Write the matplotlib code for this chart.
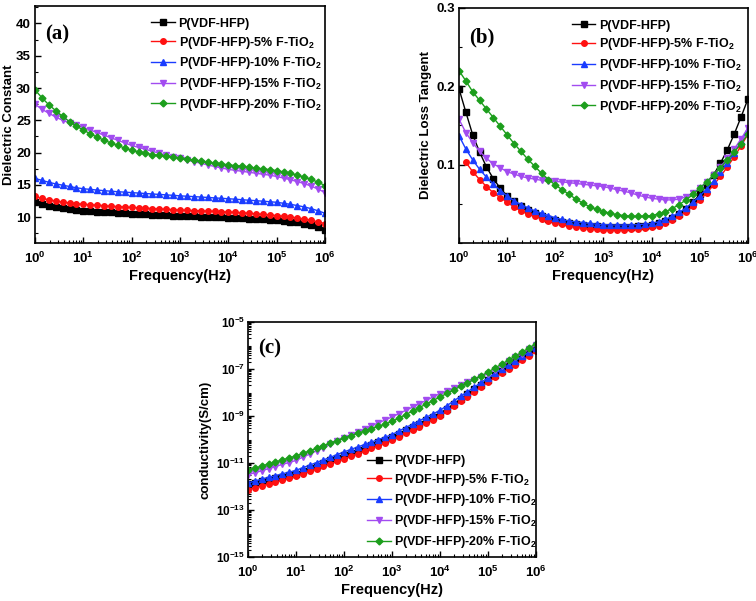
import numpy as np
import matplotlib
matplotlib.use("Agg")
import matplotlib.pyplot as plt
from matplotlib.ticker import FixedLocator, LogLocator, NullFormatter, FuncFormatter, MultipleLocator

plt.rcParams['font.family'] = ['Liberation Sans', 'DejaVu Sans']
plt.rcParams['font.weight'] = 'bold'
plt.rcParams['mathtext.fontset'] = 'custom'
plt.rcParams['mathtext.rm'] = 'Liberation Sans:bold'
plt.rcParams['mathtext.bf'] = 'Liberation Sans:bold'
plt.rcParams['mathtext.default'] = 'bf'

# frequency sweep, 7 points per decade from 1 Hz to 1 MHz
freq = 10 ** (np.arange(43) / 7)

labels = ['P(VDF-HFP)', 'P(VDF-HFP)-5% F-TiO$_2$', 'P(VDF-HFP)-10% F-TiO$_2$',
          'P(VDF-HFP)-15% F-TiO$_2$', 'P(VDF-HFP)-20% F-TiO$_2$']
colors = ['black', '#ff1010', '#1a3cff', '#a24cf0', '#1c9e1c']
markers = ['s', 'o', '^', 'v', 'D']

# (a) dielectric constant
eps_0 = [12.3, 12.0, 11.8, 11.6, 11.45, 11.3, 11.15, 11.0,
         10.93, 10.87, 10.8, 10.75, 10.7, 10.63, 10.55,
         10.5, 10.45, 10.4, 10.35, 10.3, 10.25, 10.2,
         10.16, 10.12, 10.08, 10.04, 10.0, 9.95, 9.9,
         9.85, 9.8, 9.75, 9.7, 9.65, 9.58, 9.5,
         9.42, 9.32, 9.18, 9.0, 8.75, 8.4, 8.0]
eps_5 = [13.2, 12.9, 12.7, 12.5, 12.35, 12.2, 12.1, 12.0,
         11.92, 11.85, 11.78, 11.7, 11.64, 11.57, 11.5,
         11.45, 11.4, 11.34, 11.28, 11.22, 11.16, 11.1,
         11.06, 11.02, 10.98, 10.94, 10.9, 10.85, 10.8,
         10.74, 10.68, 10.6, 10.52, 10.44, 10.35, 10.25,
         10.15, 10.02, 9.88, 9.7, 9.5, 9.27, 9.0]
eps_10 = [16.0, 15.7, 15.4, 15.15, 14.95, 14.75, 14.55, 14.4,
          14.3, 14.2, 14.1, 14.02, 13.94, 13.87, 13.8,
          13.73, 13.66, 13.59, 13.52, 13.45, 13.38, 13.3,
          13.24, 13.18, 13.12, 13.05, 12.98, 12.92, 12.85,
          12.78, 12.7, 12.62, 12.55, 12.47, 12.39, 12.3,
          12.15, 11.98, 11.8, 11.58, 11.32, 10.98, 10.6]
eps_15 = [27.5, 26.7, 26.1, 25.5, 25.0, 24.6, 24.25, 23.9,
          23.5, 23.1, 22.7, 22.3, 21.9, 21.5, 21.1,
          20.8, 20.5, 20.2, 19.9, 19.6, 19.35, 19.1,
          18.85, 18.6, 18.35, 18.1, 17.85, 17.62, 17.4,
          17.25, 17.1, 16.95, 16.8, 16.65, 16.5, 16.3,
          16.05, 15.8, 15.5, 15.2, 14.8, 14.35, 13.8]
eps_20 = [29.7, 28.5, 27.4, 26.5, 25.6, 24.8, 24.1, 23.5,
          22.9, 22.4, 21.9, 21.5, 21.1, 20.7, 20.35,
          20.1, 19.9, 19.7, 19.55, 19.4, 19.25, 19.1,
          18.95, 18.8, 18.65, 18.5, 18.35, 18.22, 18.1,
          17.97, 17.85, 17.72, 17.6, 17.48, 17.35, 17.2,
          17.0, 16.78, 16.5, 16.2, 15.85, 15.4, 14.9]

# (b) dielectric loss tangent
tan_0 = [0.197, 0.167, 0.138, 0.116, 0.097, 0.082, 0.070, 0.060,
         0.053, 0.047, 0.042, 0.038, 0.034, 0.031, 0.029,
         0.027, 0.025, 0.024, 0.023, 0.022, 0.0215, 0.021,
         0.021, 0.021, 0.021, 0.021, 0.0215, 0.022, 0.023,
         0.025, 0.028, 0.032, 0.037, 0.044, 0.052, 0.062,
         0.074, 0.087, 0.102, 0.119, 0.139, 0.161, 0.184]
tan_5 = [np.nan, 0.103, 0.091, 0.081, 0.072, 0.064, 0.058, 0.052,
         0.046, 0.041, 0.037, 0.034, 0.031, 0.028, 0.026,
         0.024, 0.022, 0.021, 0.019, 0.018, 0.018, 0.017,
         0.017, 0.017, 0.017, 0.0175, 0.018, 0.019, 0.020,
         0.022, 0.025, 0.029, 0.034, 0.040, 0.047, 0.055,
         0.064, 0.074, 0.085, 0.097, 0.110, 0.124, 0.139]
tan_10 = [0.137, 0.120, 0.106, 0.094, 0.084, 0.075, 0.067, 0.060,
          0.054, 0.049, 0.045, 0.041, 0.038, 0.035, 0.032,
          0.030, 0.028, 0.027, 0.026, 0.025, 0.024, 0.0235,
          0.023, 0.023, 0.023, 0.023, 0.0235, 0.024, 0.025,
          0.027, 0.030, 0.034, 0.039, 0.045, 0.052, 0.060,
          0.069, 0.079, 0.090, 0.102, 0.115, 0.130, 0.146]
tan_15 = [0.158, 0.141, 0.128, 0.117, 0.108, 0.101, 0.096, 0.091,
          0.088, 0.085, 0.083, 0.0815, 0.080, 0.079, 0.0785,
          0.078, 0.077, 0.076, 0.075, 0.074, 0.073, 0.072,
          0.070, 0.068, 0.066, 0.064, 0.061, 0.059, 0.057,
          0.056, 0.055, 0.055, 0.056, 0.059, 0.064, 0.070,
          0.078, 0.087, 0.097, 0.108, 0.120, 0.133, 0.147]
tan_20 = [0.220, 0.207, 0.193, 0.182, 0.171, 0.160, 0.149, 0.138,
          0.127, 0.117, 0.107, 0.098, 0.089, 0.081, 0.074,
          0.068, 0.062, 0.056, 0.051, 0.046, 0.043, 0.040,
          0.038, 0.036, 0.035, 0.034, 0.034, 0.034, 0.035,
          0.037, 0.040, 0.044, 0.049, 0.055, 0.062, 0.070,
          0.078, 0.087, 0.096, 0.106, 0.116, 0.127, 0.139]

# (c) conductivity, log10(S/cm)
sig_0 = [-11.90, -11.84, -11.77, -11.71, -11.64, -11.58, -11.51, -11.45,
         -11.34, -11.23, -11.12, -11.01, -10.89, -10.78, -10.67,
         -10.56, -10.45, -10.34, -10.23, -10.11, -10.00, -9.89,
         -9.75, -9.61, -9.47, -9.33, -9.18, -9.04, -8.90,
         -8.69, -8.49, -8.28, -8.07, -7.86, -7.66, -7.45,
         -7.26, -7.07, -6.89, -6.70, -6.51, -6.32, -6.13]
sig_5 = [-12.13, -12.05, -11.97, -11.89, -11.81, -11.73, -11.65, -11.57,
         -11.46, -11.36, -11.25, -11.14, -11.04, -10.93, -10.82,
         -10.71, -10.60, -10.49, -10.38, -10.26, -10.15, -10.04,
         -9.89, -9.74, -9.60, -9.45, -9.30, -9.16, -9.01,
         -8.80, -8.59, -8.38, -8.18, -7.97, -7.76, -7.55,
         -7.36, -7.18, -6.99, -6.81, -6.62, -6.44, -6.25]
sig_10 = [-11.85, -11.77, -11.69, -11.61, -11.54, -11.46, -11.39, -11.31,
          -11.20, -11.09, -10.98, -10.87, -10.76, -10.64, -10.53,
          -10.42, -10.32, -10.21, -10.11, -10.00, -9.90, -9.79,
          -9.64, -9.49, -9.35, -9.20, -9.05, -8.91, -8.76,
          -8.56, -8.36, -8.16, -7.97, -7.77, -7.57, -7.37,
          -7.19, -7.00, -6.82, -6.64, -6.46, -6.27, -6.09]
sig_15 = [-11.50, -11.41, -11.33, -11.24, -11.15, -11.06, -10.98, -10.89,
          -10.75, -10.62, -10.48, -10.35, -10.21, -10.08, -9.94,
          -9.81, -9.68, -9.55, -9.42, -9.29, -9.17, -9.04,
          -8.90, -8.76, -8.62, -8.48, -8.33, -8.19, -8.05,
          -7.93, -7.81, -7.69, -7.57, -7.45, -7.32, -7.20,
          -7.03, -6.86, -6.68, -6.51, -6.34, -6.16, -5.99]
sig_20 = [-11.31, -11.22, -11.13, -11.04, -10.95, -10.87, -10.78, -10.70,
          -10.59, -10.48, -10.37, -10.26, -10.15, -10.05, -9.94,
          -9.84, -9.74, -9.64, -9.54, -9.44, -9.34, -9.23,
          -9.09, -8.94, -8.79, -8.64, -8.49, -8.34, -8.19,
          -8.04, -7.89, -7.74, -7.59, -7.44, -7.29, -7.13,
          -6.96, -6.79, -6.62, -6.44, -6.27, -6.10, -5.92]

eps = [eps_0, eps_5, eps_10, eps_15, eps_20]
tan = [tan_0, tan_5, tan_10, tan_15, tan_20]
sig = [sig_0, sig_5, sig_10, sig_15, sig_20]

fig = plt.figure(figsize=(7.56, 6.01), dpi=100)
ax1 = fig.add_axes([0.0463, 0.5957, 0.3836, 0.3943])
ax2 = fig.add_axes([0.6071, 0.5957, 0.3823, 0.3910])
ax3 = fig.add_axes([0.3280, 0.0732, 0.3810, 0.3910])

dec_fmt = FuncFormatter(lambda v, p: r'$\mathbf{10^{%d}}$' % round(np.log10(v)))
leg_kw = dict(frameon=False, fontsize=9, handlelength=1.9, handletextpad=0.3,
              labelspacing=0.38, borderaxespad=0, borderpad=0)


def draw(ax, ydata, logy=False):
    for i in range(5):
        y = np.array(ydata[i], dtype=float)
        if logy:
            y = 10 ** y
        ax.plot(freq, y, color=colors[i], marker=markers[i], markersize=4 if markers[i] != 'D' else 3.5,
                lw=1.0, label=labels[i])
    ax.set_xscale('log')
    if logy:
        ax.set_yscale('log')
    ax.set_xlim(1, 1e6)
    ax.xaxis.set_major_locator(FixedLocator([10.0 ** k for k in range(7)]))
    ax.xaxis.set_minor_locator(LogLocator(base=10, subs=np.arange(2, 10), numticks=20))
    ax.xaxis.set_major_formatter(dec_fmt)
    ax.xaxis.set_minor_formatter(NullFormatter())
    ax.tick_params(which='both', direction='in', top=False, right=False, labelsize=9.5)
    ax.tick_params(which='major', length=4, width=1.0, pad=3)
    ax.tick_params(axis='x', which='major', pad=5.5)
    ax.tick_params(which='minor', length=2.2, width=0.8)
    for s in ax.spines.values():
        s.set_linewidth(1.2)
    ax.set_xlabel('Frequency(Hz)', fontsize=10.5, fontweight='bold', labelpad=2)


draw(ax1, eps)
ax1.set_ylim(6, 42.7)
ax1.set_yticks([10, 15, 20, 25, 30, 35, 40])
ax1.yaxis.set_minor_locator(MultipleLocator(2.5))
ax1.set_ylabel('Dielectric Constant', fontsize=9.5, fontweight='bold')
ax1.yaxis.set_label_coords(-0.068, 0.5)
ax1.text(0.035, 0.86, '(a)', transform=ax1.transAxes, fontsize=15, fontweight='bold',
         family='Liberation Serif')
ax1.legend(loc='upper left', bbox_to_anchor=(0.40, 0.95), **leg_kw)

draw(ax2, tan)
ax2.set_ylim(0, 0.3)
ax2.set_yticks([0.1, 0.2, 0.3])
ax2.yaxis.set_minor_locator(MultipleLocator(0.05))
ax2.set_ylabel('Dielectric Loss Tangent', fontsize=9.5, fontweight='bold')
ax2.yaxis.set_label_coords(-0.093, 0.5)
ax2.text(0.035, 0.855, '(b)', transform=ax2.transAxes, fontsize=15, fontweight='bold',
         family='Liberation Serif')
ax2.legend(loc='upper left', bbox_to_anchor=(0.39, 0.95), **leg_kw)

draw(ax3, sig, logy=True)
ax3.set_ylim(1e-15, 1e-5)
ax3.yaxis.set_major_locator(FixedLocator([10.0 ** k for k in range(-15, -4, 2)]))
ax3.yaxis.set_minor_locator(LogLocator(base=10, subs=np.arange(1, 10), numticks=30))
ax3.yaxis.set_major_formatter(dec_fmt)
ax3.yaxis.set_minor_formatter(NullFormatter())
ax3.tick_params(axis='y', which='major', labelsize=8.5, pad=2)
ax3.set_ylabel('conductivity(S/cm)', fontsize=9.5, fontweight='bold')
ax3.yaxis.set_label_coords(-0.128, 0.5)
ax3.text(0.035, 0.865, '(c)', transform=ax3.transAxes, fontsize=15, fontweight='bold',
         family='Liberation Serif')
ax3.legend(loc='lower left', bbox_to_anchor=(0.413, 0.03), **leg_kw)

fig.savefig('out.png', dpi=100)
